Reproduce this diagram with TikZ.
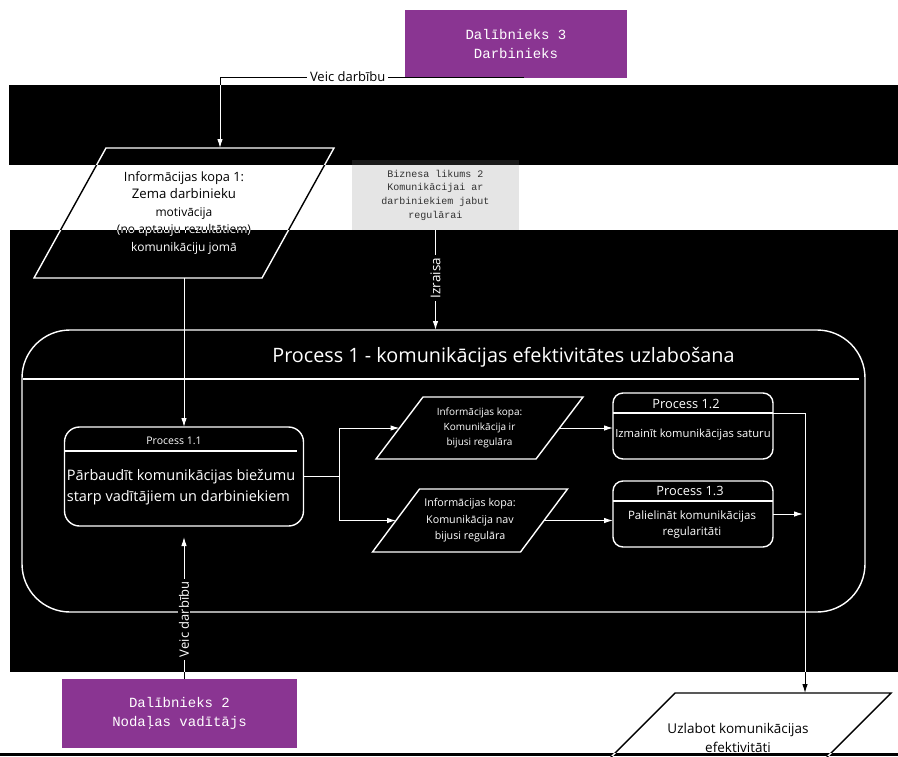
\documentclass[tikz,border=0pt]{standalone}
\usepackage{fontspec}
\setmainfont{Open Sans}
\newfontfamily\monof{Liberation Mono}
\usetikzlibrary{shapes.geometric,arrows.meta,calc}
\definecolor{actorpurple}{RGB}{138,53,146}
\definecolor{rulegray}{RGB}{229,229,229}
\definecolor{ruletext}{RGB}{50,50,50}
\newcommand\fsz[2]{\fontsize{#1}{#2}\selectfont}
% slanted outline around a rectangular text node: #1 node, #2 half slant
\newcommand\slantframe[2]{%
  \draw[shapeline] ($(#1.south west)+(-#2,0)$) -- ($(#1.north west)+(#2,0)$)
    -- ($(#1.north east)+(#2,0)$) -- ($(#1.south east)+(-#2,0)$) -- cycle;}

\begin{document}
\begin{tikzpicture}[x=1pt,y=-1pt,
  every node/.style={inner sep=0pt, outer sep=0pt, align=center},
  shapeline/.style={draw=black, line width=1.4pt},
  link/.style={draw=black, line width=1pt},
  arr/.style={link, -{Latex[length=9pt,width=5.5pt]}},
  actor/.style={fill=actorpurple, text=white, font=\monof\fsz{14}{19.5}},
  rulebox/.style={fill=rulegray, text=ruletext, font=\monof\fsz{10}{13.7}},
  paratext/.style={rectangle},
  proc/.style={shapeline, rectangle, rounded corners=#1},
  lbl/.style={fill=white, inner xsep=3pt, inner ysep=1pt, font=\fsz{13}{15}},
]
% canvas
\fill[white] (0,0) rectangle (898,756);
\useasboundingbox (0,0) rectangle (898,756);
\clip (0,0) rectangle (898,756);

% participants
\node[actor, minimum width=222pt, minimum height=68pt] (d3) at (516,44) {Dalībnieks 3\\Darbinieks};
\node[actor, minimum width=235pt, minimum height=69pt] (d2) at (179.5,713.5) {Dalībnieks 2\\Nodaļas vadītājs};

% input information set
\node[paratext, minimum width=228pt, minimum height=130pt, font=\fsz{12}{17.5}] (p1) at (184,213)
  {{\fsz{12.8}{17.5}Informācijas kopa 1:}\\{\fsz{13.2}{17.5}Zema darbinieku}\\motivācija\\(no aptauju rezultātiem)\\komunikāciju jomā};
\slantframe{p1}{36}

% business rule
\node[rulebox, minimum width=167pt, minimum height=70pt] (bl) at (435.5,195)
  {Biznesa likums 2\\Komunikācijai ar\\darbiniekiem jabut\\regulārai};

% main process
\node[proc=48pt, minimum width=843pt, minimum height=282pt] (pr1) at (443.5,471) {};
\node[font=\fsz{19.8}{22}] (pr1t) at (503.5,357) {Process 1 - komunikācijas efektivitātes uzlabošana};
\draw[line width=1.4pt] ($(pr1.north west)+(1,49)$) -- ($(pr1.north east)+(-6,49)$);

% sub-process 1.1
\node[proc=15pt, minimum width=239pt, minimum height=99pt] (pr11) at (184,476.5) {};
\node[font=\fsz{10.5}{12}] (pr11h) at (174,441) {Process 1.1};
\draw[line width=1.4pt] ($(pr11.north west)+(0,24)$) -- ($(pr11.north east)+(-7,24)$);
\node[font=\fsz{14.5}{21}, align=left] (pr11b) at (181,487) {Pārbaudīt komunikācijas biežumu\\starp vadītājiem un darbiniekiem};

% decision outcomes
\node[paratext, minimum width=160pt, minimum height=62pt, font=\fsz{10}{15}] (pa) at (479.5,428)
  {Informācijas kopa:\\Komunikācija ir\\bijusi regulāra};
\slantframe{pa}{23.5}
\node[paratext, minimum width=148pt, minimum height=63pt, font=\fsz{10.7}{16.5}] (pb) at (470,520.5)
  {Informācijas kopa:\\Komunikācija nav\\bijusi regulāra};
\slantframe{pb}{23.5}

% sub-process 1.2
\node[proc=10pt, minimum width=160pt, minimum height=66pt] (pr12) at (693,426) {};
\node[font=\fsz{12.8}{14}] (pr12h) at (686,404) {Process 1.2};
\coordinate (sep12e) at ($(pr12.north east)+(0,20)$);
\draw[line width=1.4pt] ($(pr12.north west)+(0,20)$) -- (sep12e);
\node[font=\fsz{11.2}{13}] (pr12b) at (693,435) {Izmainīt komunikācijas saturu};

% sub-process 1.3
\node[proc=10pt, minimum width=160pt, minimum height=66pt] (pr13) at (693,514) {};
\node[font=\fsz{12.8}{14}] (pr13h) at (690,491) {Process 1.3};
\draw[line width=1.4pt] ($(pr13.north west)+(0,20)$) -- ($(pr13.north east)+(0,20)$);
\node[font=\fsz{11.5}{16}] (pr13b) at (692,525) {Palielināt komunikācijas\\regularitāti};

% output information set
\node[paratext, minimum width=216pt, minimum height=90pt, font=\fsz{13.5}{19}] (po) at (738,738)
  {Uzlabot komunikācijas\\efektivitāti};
\slantframe{po}{45}

% connectors
\coordinate (d3out) at ($(d3.south)+(8,-1)$);
\coordinate (p1in) at ($(p1.north)+(36,0)$);
\draw[arr] (d3out) -| node[lbl, pos=0.29] (lveic3) {Veic darbību} (p1in);
\draw[arr] (bl.south) -- node[lbl, rotate=90, pos=0.48, font=\fsz{13.5}{15}] (lizr) {Izraisa} (bl.south |- pr1.north);
\draw[arr] (p1.south -| pr11.north) -- (pr11.north);
\draw[link] (pr11.east) -- ++(36,0) coordinate (fork);
\draw[arr] (fork) |- (pa.west);
\draw[arr] (fork) |- (pb.west);
\draw[arr] (pa.east) -- (pa.east -| pr12.west);
\draw[arr] (pb.east) -- (pb.east -| pr13.west);
\coordinate (r13end) at ($(pr13.east)+(30,0)$);
\draw[arr] (pr13.east) -- (r13end);
\coordinate (drop) at ($(sep12e)+(32,0)$);
\draw[arr] (sep12e) -- (drop) -- (drop |- po.north);
\draw[arr, shorten >=11pt] (d2.north -| pr11.south) -- node[lbl, rotate=90, pos=0.39] (lveic2) {Veic darbību} (pr11.south);

% inverted bands
\begin{scope}[blend mode=difference]
  \fill[white] (9,85) rectangle (898,165);
  \fill[white] (10,230) rectangle (898,672);
  \fill[white] (0,752.5) rectangle (898,756);
\end{scope}
\end{tikzpicture}
\end{document}
